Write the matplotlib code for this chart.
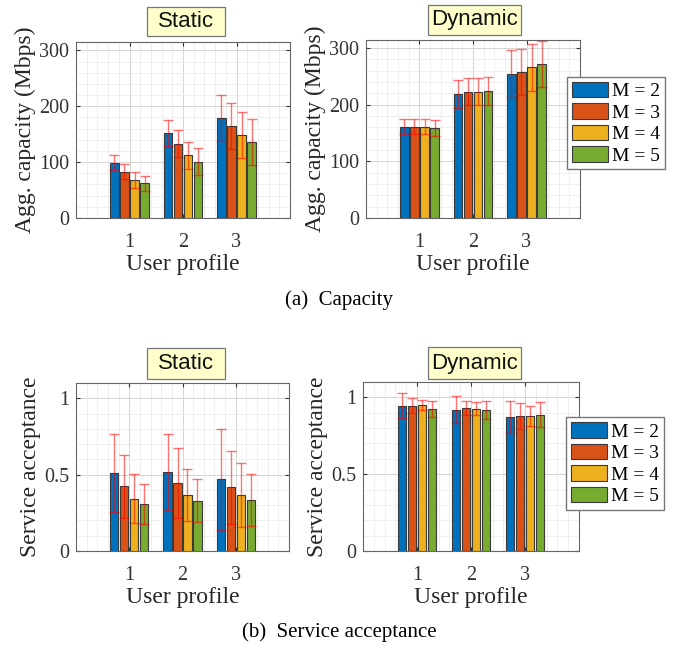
import numpy as np
import matplotlib
matplotlib.use('Agg')
import matplotlib.pyplot as plt
from matplotlib.patches import Rectangle
from matplotlib.ticker import MultipleLocator, FuncFormatter

plt.rcParams['font.family'] = ['Liberation Serif', 'DejaVu Serif']

# Datos
profiles = [1, 2, 3]
labels_m = ['M = 2', 'M = 3', 'M = 4', 'M = 5']
colors = ['#0072BD', '#D95319', '#EDB120', '#77AC30']

cap_static = [[99, 152, 179],
              [83, 133, 164],
              [68, 112, 148],
              [62, 101, 136]]
cap_static_err = [[13.5, 24, 41],
                  [14, 24, 41],
                  [14, 24, 41],
                  [14, 24, 42]]

cap_dyn = [[161, 219, 255],
           [161, 223, 258],
           [161, 223, 266],
           [159, 224, 272]]
cap_dyn_err = [[13.5, 24.5, 41],
               [13.5, 24, 41],
               [13.5, 24, 41],
               [13.5, 24, 41]]

acc_static = [[0.509, 0.518, 0.469],
              [0.423, 0.445, 0.418],
              [0.343, 0.369, 0.369],
              [0.310, 0.330, 0.336]]
acc_static_err = [[0.255, 0.25, 0.33],
                  [0.205, 0.23, 0.24],
                  [0.16, 0.17, 0.21],
                  [0.13, 0.14, 0.17]]

acc_dyn = [[0.946, 0.919, 0.874],
           [0.946, 0.932, 0.880],
           [0.950, 0.926, 0.880],
           [0.926, 0.919, 0.887]]
acc_dyn_err = [[0.08, 0.087, 0.105],
               [0.05, 0.044, 0.085],
               [0.035, 0.044, 0.065],
               [0.052, 0.059, 0.08]]

W, H = 678, 660
fig = plt.figure(figsize=(W / 100, H / 100), dpi=100)


def px_axes(left, right, top, bottom):
    return fig.add_axes([left / W, 1 - bottom / H, (right - left) / W, (bottom - top) / H])


def caja_titulo(texto, left, right, top, bottom):
    # recuadro amarillo estilo MATLAB (coordenadas en pixeles)
    fig.patches.append(Rectangle((left / W, 1 - bottom / H), (right - left) / W, (bottom - top) / H,
                                 transform=fig.transFigure, facecolor='#ffffcc',
                                 edgecolor='#777777', linewidth=0.9))
    fig.text((left + right) / 2 / W, 1 - (top + bottom) / 2 / H, texto, ha='center', va='center',
             fontsize=16, family='Liberation Sans', color='#111111')


def fmt_num(v, pos):
    return '%g' % round(v, 3)


def dibujar(ax, vals, errs, ymax, major, minor, leyenda=False):
    x = np.array(profiles, dtype=float)
    pitch = 0.187
    width = 0.155
    for i in range(4):
        xi = x + (i - 1.5) * pitch
        ax.bar(xi, vals[i], width, color=colors[i], edgecolor='#3a3a3a',
               linewidth=0.8, label=labels_m[i], zorder=3)
        ax.errorbar(xi, vals[i], yerr=errs[i], fmt='none', ecolor='red',
                    alpha=0.55, elinewidth=1.0, capsize=3.5, capthick=1.0, zorder=4)
    ax.set_xlim(0, 4)
    ax.set_ylim(0, ymax)
    ax.set_xticks(profiles)
    ax.xaxis.set_minor_locator(MultipleLocator(0.2))
    ax.yaxis.set_major_locator(MultipleLocator(major))
    ax.yaxis.set_minor_locator(MultipleLocator(minor))
    ax.yaxis.set_major_formatter(FuncFormatter(fmt_num))
    ax.grid(True, which='major', color='#d4d4d4', linewidth=0.7, zorder=0)
    ax.grid(True, which='minor', color='#ececec', linewidth=0.6, zorder=0)
    ax.set_axisbelow(True)
    ax.tick_params(which='both', direction='in', top=True, right=True,
                   labelsize=14.5, colors='#333333', length=3, pad=5)
    ax.tick_params(axis='x', pad=11)
    ax.tick_params(which='minor', length=0)
    for s in ax.spines.values():
        s.set_color('#666666')
        s.set_linewidth(0.8)
    ax.set_xlabel('User profile', fontsize=17, color='#262626', labelpad=1)
    if leyenda:
        ax.legend(loc='upper left', bbox_to_anchor=(0.94, 0.79), fontsize=14,
                  handlelength=1.85, handleheight=0.85, handletextpad=0.2,
                  labelspacing=0.15, borderpad=0.25, borderaxespad=0,
                  fancybox=False, framealpha=1, edgecolor='#777777')


ax1 = px_axes(76, 290, 42, 218)
dibujar(ax1, cap_static, cap_static_err, 315, 100, 20)
ax1.set_ylabel('Agg. capacity (Mbps)', fontsize=17, color='#262626', labelpad=2)
caja_titulo('Static', 147, 225, 6.5, 36)

ax2 = px_axes(366, 580, 39.5, 218)
dibujar(ax2, cap_dyn, cap_dyn_err, 315, 100, 20, leyenda=True)
ax2.set_ylabel('Agg. capacity (Mbps)', fontsize=17, color='#262626', labelpad=2)
caja_titulo('Dynamic', 428, 521, 4.5, 34.5)

ax3 = px_axes(76, 289, 383, 551)
dibujar(ax3, acc_static, acc_static_err, 1.1, 0.5, 0.1)
ax3.set_ylabel('Service acceptance', fontsize=17, color='#262626', labelpad=2)
caja_titulo('Static', 147, 225, 348, 379)

ax4 = px_axes(363, 579, 382, 551)
dibujar(ax4, acc_dyn, acc_dyn_err, 1.1, 0.5, 0.1, leyenda=True)
ax4.set_ylabel('Service acceptance', fontsize=17, color='#262626', labelpad=2)
caja_titulo('Dynamic', 428, 521, 347, 379)

fig.text(0.5, 1 - 300 / H, '(a)  Capacity', ha='center', va='center', fontsize=15)
fig.text(0.5, 1 - 632 / H, '(b)  Service acceptance', ha='center', va='center', fontsize=15)

fig.savefig('out.png', dpi=100)
